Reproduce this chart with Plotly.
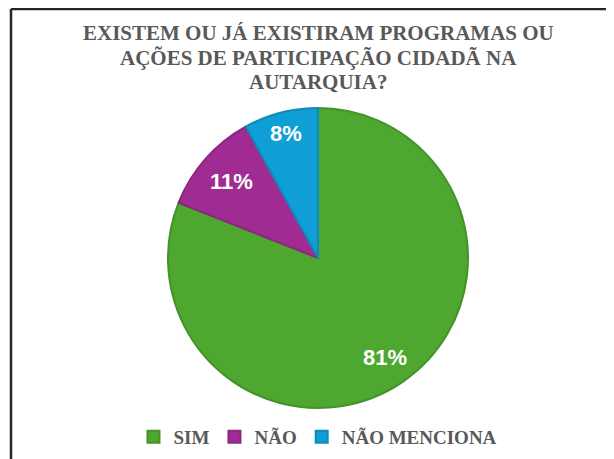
import math
import plotly.graph_objects as go

categories = ["SIM", "NÃO", "NÃO MENCIONA"]
values = [81, 11, 8]
fill_colors = ["#4EA72E", "#A02B93", "#0F9ED5"]
line_colors = ["#44922A", "#8C2781", "#0E8BBB"]
label_radius = [0.80, 0.77, 0.86]
title_lines = ["EXISTEM OU JÁ EXISTIRAM PROGRAMAS OU",
               "AÇÕES DE PARTICIPAÇÃO CIDADÃ NA",
               "AUTARQUIA?"]

W, H = 614, 459
OFF = 8  # page body margin

def px(x):
    return (x - OFF) / W

def py(y):
    return 1 - (y - OFF) / H

CX, CY, R = 318, 258, 150

fig = go.Figure()
fig.add_trace(go.Pie(
    labels=categories,
    values=values,
    sort=False,
    direction="clockwise",
    rotation=0,
    marker=dict(colors=fill_colors, line=dict(color=line_colors, width=2)),
    textinfo="none",
    domain=dict(x=[px(CX - R), px(CX + R)], y=[py(CY + R), py(CY - R)]),
    hoverinfo="label+percent",
))

# percentage labels placed along each slice bisector (derived from the values)
total = sum(values)
cum = 0
for v, k in zip(values, label_radius):
    mid = (cum + v / 2) / total * 2 * math.pi
    cum += v
    lx = CX + k * R * math.sin(mid)
    ly = CY - k * R * math.cos(mid)
    fig.add_annotation(
        text="<b>%d%%</b>" % round(v / total * 100),
        x=px(lx), y=py(ly), xref="paper", yref="paper",
        xanchor="center", yanchor="middle", showarrow=False,
        font=dict(family="Arial, Liberation Sans, sans-serif", size=22, color="white"),
    )

for i, line in enumerate(title_lines):
    fig.add_annotation(
        text="<b>" + line + "</b>",
        x=px(318), y=py(33 + i * 24.5), xref="paper", yref="paper",
        xanchor="center", yanchor="middle", showarrow=False,
        font=dict(family="Liberation Serif, Times New Roman, serif", size=21, color="#595959"),
    )

# chart border (top and left visible)
fig.add_shape(type="line", xref="paper", yref="paper",
              x0=px(11), x1=1.01, y0=py(9), y1=py(9),
              line=dict(color="#262626", width=2.5))
fig.add_shape(type="line", xref="paper", yref="paper",
              x0=px(11), x1=px(11), y0=py(9), y1=-0.01,
              line=dict(color="#262626", width=2.5))

fig.update_layout(
    width=W, height=H,
    margin=dict(l=0, r=0, t=0, b=0),
    paper_bgcolor="white",
    plot_bgcolor="white",
    showlegend=True,
    legend=dict(
        orientation="h",
        x=px(318), xanchor="center",
        y=py(437), yanchor="middle",
        font=dict(family="Liberation Serif, Times New Roman, serif", size=19, color="#595959", weight="bold"),
        itemwidth=30,
        traceorder="normal",
    ),
)

fig.write_html("out.html")
